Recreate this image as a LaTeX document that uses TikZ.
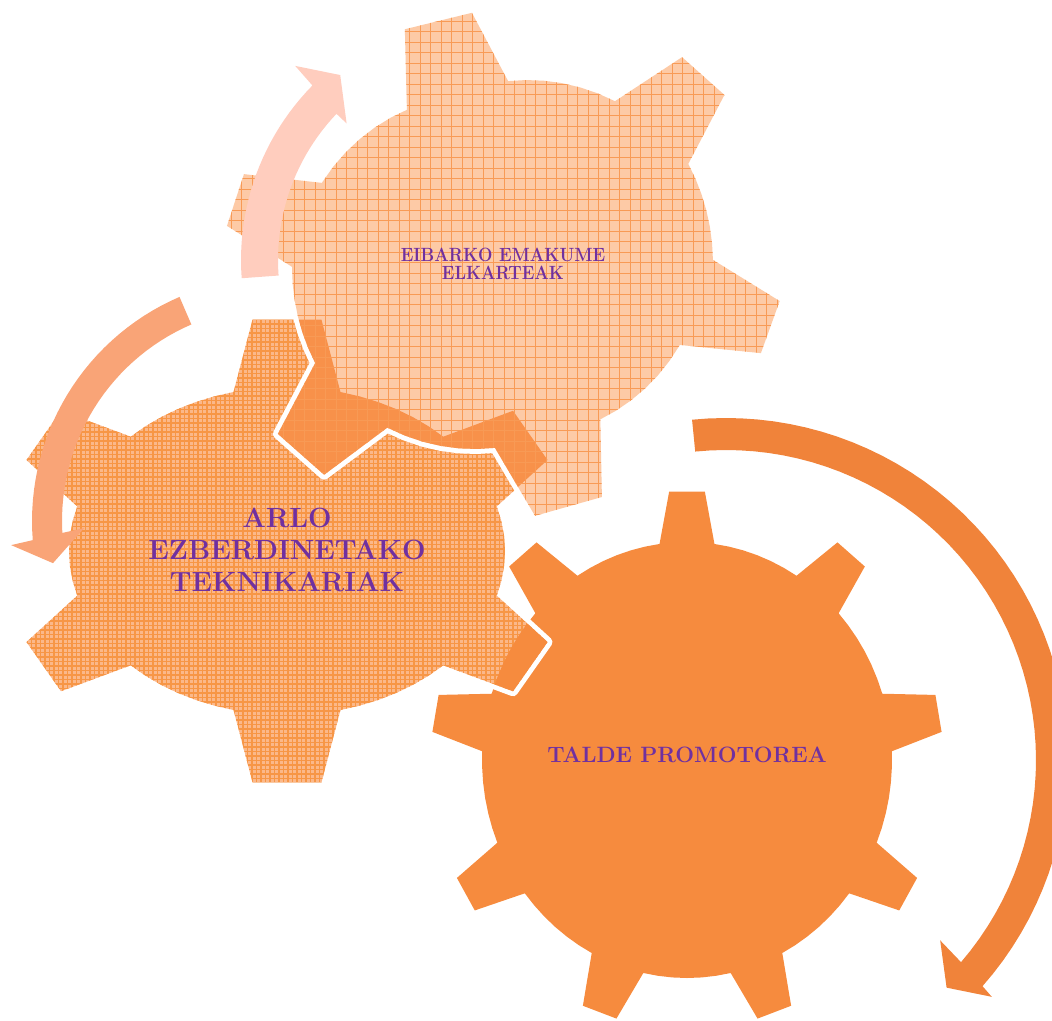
\documentclass[tikz,border=0pt]{standalone}
\definecolor{gOneC}{HTML}{F68B3E}
\definecolor{gTwoBg}{HTML}{FBB88A}
\definecolor{gTwoLn}{HTML}{F79646}
\definecolor{gThreeBg}{HTML}{FDCAA6}
\definecolor{gThreeLn}{HTML}{F89A55}
\definecolor{gDark}{HTML}{F8914A}
\definecolor{arrA}{HTML}{F0833A}
\definecolor{arrB}{HTML}{F9A477}
\definecolor{arrC}{HTML}{FFCDBE}
\definecolor{txtC}{HTML}{7030A0}
\tikzset{
  gearline/.style={draw=white, line width=10pt, line join=round},
  gtext/.style={text=txtC, align=center, inner sep=0pt},
}
% polar point about a named centre
\newcommand\gpt[3]{([shift={(#1)}]#2:#3)}
% polar arc with linearly varying radius
\newcommand\garc[6]{\foreach \ak [evaluate=\ak as \aang using #2+(#4-#2)*\ak/#6, evaluate=\ak as \arad using #3+(#5-#3)*\ak/#6] in {1,...,#6}{ -- ([shift={(#1)}]\aang:\arad) }}
% regular (elliptic) gear: centre, body rx, body ry, tip rx, tip ry, teeth, start angle, base half angle, tip half angle
\newcommand\gearpath[9]{%
 ([shift={(#1)}]#7-#8:#2 and #3)
 \foreach \gi [evaluate=\gi as \ga using #7+(\gi-1)*360/#6] in {1,...,#6}{
   -- ([shift={(#1)}]\ga-#9:#4 and #5)
   -- ([shift={(#1)}]\ga+#9:#4 and #5)
   -- ([shift={(#1)}]\ga+#8:#2 and #3)
   \foreach \gk [evaluate=\gk as \gb using \ga+#8+(360/#6-2*#8)*\gk/6] in {1,...,6}{
     -- ([shift={(#1)}]\gb:#2 and #3)
   }
 } -- cycle}
\newcommand\gearone{\gearpath{g1c}{205}{218}{256}{269}{9}{270}{7.7}{4}}
\newcommand\geartwo{\gearpath{g2c}{218}{164}{283}{233}{6}{270}{14.2}{7}}
\newcommand\gearthree{\gpt{g3c}{238.5}{182} -- \gpt{g3c}{247.6}{255} -- \gpt{g3c}{263.2}{254} -- \gpt{g3c}{271.9}{184}
 \garc{g3c}{271.9}{184}{304.6}{199}{6} -- \gpt{g3c}{310.9}{275} -- \gpt{g3c}{322.6}{280} -- \gpt{g3c}{331.5}{212}
 \garc{g3c}{331.5}{212}{358.6}{211}{6} -- \gpt{g3c}{367.4}{280} -- \gpt{g3c}{378.8}{273.5} -- \gpt{g3c}{384.2}{195}
 \garc{g3c}{384.2}{195}{417.5}{183}{6} -- \gpt{g3c}{426.7}{252.6} -- \gpt{g3c}{442.5}{253} -- \gpt{g3c}{452.2}{183}
 \garc{g3c}{452.2}{183}{485.2}{199}{6} -- \gpt{g3c}{490.3}{275} -- \gpt{g3c}{503}{280.6} -- \gpt{g3c}{512.3}{211}
 \garc{g3c}{512.3}{211}{539.5}{210}{6} -- \gpt{g3c}{548.1}{277.8} -- \gpt{g3c}{559.4}{273.6} -- \gpt{g3c}{564.5}{198}
 \garc{g3c}{564.5}{198}{598.5}{182}{6} -- cycle}
\begin{document}
\begin{tikzpicture}[x=1pt,y=-1pt]
\useasboundingbox (0,0) rectangle (1052,1020);
\clip (0,0) rectangle (1052,1020);
\coordinate (g1c) at (687,760);
\coordinate (g2c) at (287,551);
\coordinate (g3c) at (502,265);
\coordinate (a1c) at (726,760);
\coordinate (a2c) at (276,521);
\coordinate (a3c) at (490,260);
% gear 1 (large)
\fill[gOneC] \gearone;
% gear 2 (left)
\draw[gearline] \geartwo;
\begin{scope}
  \clip \geartwo;
  \fill[gTwoBg] (0,250) rectangle (600,820);
  \draw[gTwoLn, line width=1.1pt, step=4.5pt] (0,820) grid (600,250);
  \fill[gOneC] \gearone;
\end{scope}
% gear 3 (top)
\draw[gearline] \gearthree;
\begin{scope}
  \clip \gearthree;
  \fill[gThreeBg] (200,0) rectangle (800,540);
  \fill[gDark] \geartwo;
  \draw[gThreeLn, line width=1pt, step=10.5pt] (200,540) grid (800,0);
\end{scope}
% circular arrows
\fill[arrC] \gpt{a3c}{175.8}{249} \garc{a3c}{175.8}{249}{224.5}{249}{24} -- \gpt{a3c}{224.9}{275} -- \gpt{a3c}{231}{238} -- \gpt{a3c}{223.6}{198} -- \gpt{a3c}{223.6}{212} \garc{a3c}{223.6}{212}{175.8}{212}{24} -- cycle;
\fill[arrB] \gpt{a2c}{246.7}{244} \garc{a2c}{246.7}{244}{175.5}{244}{30} -- \gpt{a2c}{174.8}{266} -- \gpt{a2c}{169.3}{227} -- \gpt{a2c}{177.9}{192} -- \gpt{a2c}{176.8}{214} \garc{a2c}{176.8}{214}{246.7}{214}{30} -- cycle;
\fill[arrA] \gpt{a1c}{264.3}{342} \garc{a1c}{264.3}{342}{401.4}{342}{50} -- \gpt{a1c}{401.7}{356} -- \gpt{a1c}{405.9}{317} -- \gpt{a1c}{400.1}{280} -- \gpt{a1c}{400.7}{310} \garc{a1c}{400.7}{310}{264.3}{310}{50} -- cycle;
% texts
\begin{scope}[shift={(503,264)}, yscale=1.12]
  \node[gtext, transform shape, font=\bfseries\fontsize{17.1}{16.3}\selectfont] (t3) at (0,0) {EIBARKO EMAKUME\\ELKARTEAK};
\end{scope}
\node[gtext, font=\bfseries\fontsize{27.8}{32}\selectfont] (t2) at (287,550) {ARLO\\EZBERDINETAKO\\TEKNIKARIAK};
\node[gtext, font=\bfseries\fontsize{22.2}{26}\selectfont] (t1) at (687,755) {TALDE PROMOTOREA};
\end{tikzpicture}
\end{document}
